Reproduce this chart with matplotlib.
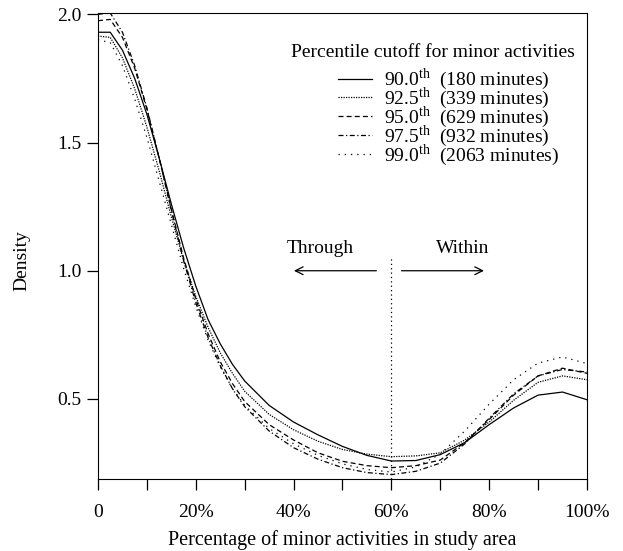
import matplotlib
matplotlib.use("Agg")
import matplotlib.pyplot as plt

plt.rcParams['font.family'] = ['Liberation Serif', 'DejaVu Serif']
plt.rcParams['mathtext.fontset'] = 'custom'
plt.rcParams['mathtext.rm'] = 'Liberation Serif'
plt.rcParams['font.size'] = 14

# share of minor activities in study area (%)
pct = [0, 2.5, 5, 7.5, 10, 12.5, 15, 17.5, 20, 22.5, 25, 27.5, 30,
       35, 40, 45, 50, 55, 60, 65, 70, 75, 80, 85, 90, 95, 100]

dens_900 = [1.93, 1.93, 1.86, 1.75, 1.61, 1.44, 1.26, 1.09, 0.94, 0.81, 0.715, 0.635, 0.57,
            0.475, 0.41, 0.36, 0.315, 0.28, 0.258, 0.26, 0.283, 0.33, 0.40, 0.465, 0.515, 0.527, 0.497]
dens_925 = [1.915, 1.91, 1.83, 1.71, 1.56, 1.39, 1.21, 1.04, 0.90, 0.78, 0.68, 0.60, 0.53,
            0.44, 0.38, 0.335, 0.303, 0.285, 0.275, 0.278, 0.29, 0.34, 0.41, 0.495, 0.565, 0.59, 0.575]
dens_950 = [1.975, 1.98, 1.91, 1.79, 1.63, 1.44, 1.24, 1.05, 0.89, 0.755, 0.645, 0.56, 0.49,
            0.40, 0.34, 0.29, 0.257, 0.24, 0.232, 0.24, 0.262, 0.33, 0.42, 0.515, 0.59, 0.62, 0.60]
dens_975 = [2.0, 2.005, 1.93, 1.80, 1.635, 1.44, 1.235, 1.04, 0.875, 0.74, 0.63, 0.54, 0.47,
            0.375, 0.31, 0.265, 0.232, 0.213, 0.205, 0.218, 0.25, 0.325, 0.425, 0.52, 0.59, 0.615, 0.605]
dens_990 = [1.90, 1.89, 1.80, 1.67, 1.52, 1.35, 1.18, 1.01, 0.86, 0.73, 0.625, 0.54, 0.475,
            0.385, 0.325, 0.28, 0.247, 0.225, 0.215, 0.235, 0.285, 0.375, 0.48, 0.575, 0.64, 0.664, 0.638]

labels = ["90.0$^{\\rm th}$  (180 minutes)",
          "92.5$^{\\rm th}$  (339 minutes)",
          "95.0$^{\\rm th}$  (629 minutes)",
          "97.5$^{\\rm th}$  (932 minutes)",
          "99.0$^{\\rm th}$  (2063 minutes)"]
styles = ['-', (0, (1, 1)), (0, (4, 2.5)), (0, (4, 2, 1, 2)), (0, (1, 4))]
series = [dens_900, dens_925, dens_950, dens_975, dens_990]

fig = plt.figure(figsize=(6.23, 5.51), dpi=100)
ax = fig.add_axes([0.1573, 0.1307, 0.7849, 0.8457])

for d, ls, lab in zip(series, styles, labels):
    ax.plot(pct, d, color='black', linestyle=ls, linewidth=0.9, label=lab)

# split between through and within trips
ax.plot([60, 60], [0.0, 1.05], color='black', linestyle=(0, (1, 2.5)), linewidth=0.9)
ax.annotate("", xy=(39.5, 1.0), xytext=(57.5, 1.0),
            arrowprops=dict(arrowstyle='->', color='black', lw=0.9))
ax.annotate("", xy=(79.5, 1.0), xytext=(61.5, 1.0),
            arrowprops=dict(arrowstyle='->', color='black', lw=0.9))
ax.text(45.5, 1.055, "Through", ha='center', va='bottom')
ax.text(74.5, 1.055, "Within", ha='center', va='bottom')

ax.set_xlim(0, 100)
ax.set_ylim(0.188, 2.005)
ax.set_xticks([0, 20, 40, 60, 80, 100])
ax.set_xticklabels(["0", "20%", "40%", "60%", "80%", "100%"])
ax.set_xticks([10, 30, 50, 70, 90], minor=True)
ax.set_yticks([0.5, 1.0, 1.5, 2.0])
ax.set_yticklabels(["0.5", "1.0", "1.5", "2.0"])
ax.tick_params(which='both', direction='out', length=8, width=0.9, labelsize=14, pad=4)
ax.tick_params(axis='x', pad=10)
ax.set_xlabel("Percentage of minor activities in study area", fontsize=14.5, labelpad=6.5)
ax.set_ylabel("Density")
ax.yaxis.set_label_coords(-0.138, 0.468)

ax.text(0.685, 0.916, "Percentile cutoff for minor activities", transform=ax.transAxes,
        ha='center', va='center')
leg = ax.legend(frameon=False, loc='upper left', bbox_to_anchor=(0.49, 0.885),
                fontsize=14, handlelength=1.75, handletextpad=0.65,
                labelspacing=-0.35, borderaxespad=0.0, borderpad=0.0)

plt.savefig("out.png", dpi=100)
